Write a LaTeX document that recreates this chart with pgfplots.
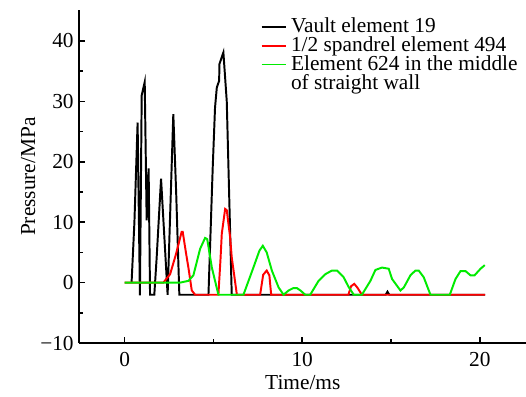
\documentclass[12pt,border=0pt]{standalone}
\usepackage{fontspec}
\setmainfont{Liberation Serif}
\usepackage{pgfplots}
\pgfplotsset{compat=1.18}
\definecolor{lgreen}{RGB}{0,235,0}
\begin{document}
\begin{tikzpicture}
\useasboundingbox (-44.6pt,-29.8pt) rectangle (251pt,192.8pt);
\begin{axis}[
  scale only axis, width=251pt, height=187.1pt,
  xmin=-2.55, xmax=22.6, ymin=-10, ymax=45.1,
  axis x line=bottom, axis y line=left,
  axis line style={-, line width=1pt},
  xtick={0,10,20}, minor xtick={5,15},
  ytick={-10,0,10,20,30,40}, minor ytick={-5,5,15,25,35},
  yticklabels={−10,0,10,20,30,40},
  tick align=inside,
  major tick length=3.4pt, minor tick length=2.2pt,
  every tick/.style={black, line width=0.9pt},
  /pgf/number format/assume math mode=true,
  tick label style={font=\fontsize{12}{14}\selectfont},
  xticklabel style={yshift=-1pt},
  yticklabel style={xshift=1pt},
  xlabel={Time/ms}, ylabel={Pressure/MPa},
  label style={font=\fontsize{12}{14}\selectfont},
  every axis x label/.style={at={(axis description cs:0.5003,-0.120)}, anchor=center},
  every axis y label/.style={at={(axis description cs:-0.1148,0.5)}, anchor=center, rotate=90},
  legend style={draw=none, fill=none, at={(axis description cs:0.405,0.988)}, anchor=north west,
    font=\fontsize{12}{14}\selectfont, inner sep=0pt, row sep=-3.6pt,
    /tikz/every even column/.append style={column sep=2.5pt}},
  legend cell align=left,
  legend image code/.code={\draw[#1] (0pt,0pt) -- (14pt,0pt);},
  clip=false,
]
\addplot[black, line width=1.1pt] coordinates {
(0.39,0) (0.55,10) (0.73,26.5) (0.86,-2.1) (0.96,31) (1.13,33.2) (1.24,10.3) (1.35,18.9) (1.43,-2)
(1.67,-2) (1.8,4) (2.05,17.2) (2.42,-2) (2.74,27.9) (2.9,15) (3.08,-2) (4.72,-2) (4.96,19.1)
(5.09,29) (5.19,32.3) (5.32,33.4) (5.34,36.2) (5.56,38.1) (5.75,30) (6.03,-2) (14.7,-2)
(14.8,-1.5) (14.9,-2) (20.3,-2)};
\addlegendentry{Vault element 19}
\addplot[red, line width=1.1pt] coordinates {
(0,0) (2.18,0) (2.56,1.4) (2.89,4.7) (3.21,8.4) (3.27,8.4) (3.45,5) (3.59,2.5) (3.78,-1.3)
(3.97,-2) (5.28,-2) (5.4,4) (5.47,8.1) (5.66,12.2) (5.75,12) (5.94,7.5) (6.03,4.2) (6.32,-2)
(7.63,-2) (7.8,1.3) (8.0,2.0) (8.15,1.2) (8.25,-2) (12.6,-2) (12.75,-0.6) (12.93,-0.2)
(13.1,-0.8) (13.36,-2) (20.3,-2)};
\addlegendentry{1/2 spandrel element 494}
\addplot[lgreen, line width=1.1pt] coordinates {
(0,0) (3.12,0) (3.59,0.3) (3.87,1.2) (4.25,5.6) (4.53,7.4) (4.65,7.2) (4.91,2.5) (5.28,-2)
(6.69,-2) (7.25,2.5) (7.59,5.3) (7.78,6.1) (8.0,5) (8.29,2) (8.67,-0.8) (8.95,-2) (9.23,-1.3)
(9.5,-0.9) (9.7,-0.9) (9.9,-1.3) (10.17,-2) (10.45,-2) (10.92,0.3) (11.3,1.4) (11.67,2.0)
(11.96,2.0) (12.33,0.9) (12.61,-0.7) (12.9,-2) (13.36,-2) (13.84,0.3) (14.12,2.1) (14.49,2.5)
(14.87,2.3) (15.06,0.6) (15.53,-1.3) (15.72,-0.8) (16.09,1.2) (16.37,2.0) (16.56,2.0)
(16.84,0.9) (17.22,-2) (18.31,-2) (18.63,0.6) (18.91,1.9) (19.2,1.9) (19.48,1.2) (19.7,1.2)
(20.04,2.3) (20.28,2.9)};
\addlegendentry{Element 624 in the middle}
\addlegendimage{empty legend}
\addlegendentry{of straight wall}
\end{axis}
\end{tikzpicture}
\end{document}
